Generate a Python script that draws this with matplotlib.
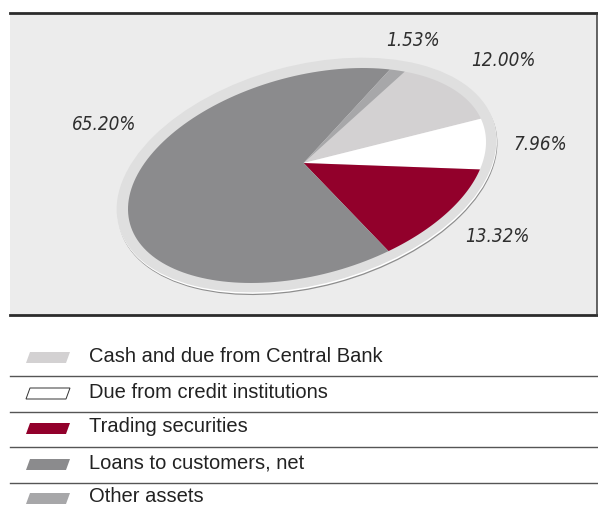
import numpy as np
import matplotlib
matplotlib.use("Agg")
import matplotlib.pyplot as plt
from matplotlib.patches import Rectangle, Ellipse, Polygon
from matplotlib.transforms import Affine2D

# asset structure, %
labels = ["Cash and due from Central Bank", "Due from credit institutions",
          "Trading securities", "Loans to customers, net", "Other assets"]
shares = [12.00, 7.96, 13.32, 65.20, 1.53]
colors = ["#d3d1d2", "#ffffff", "#92002b", "#8b8b8d", "#a7a7a9"]

# where the percentage labels sit (pixels)
label_pos = [(503, 60), (540, 145), (497, 237), (104, 125), (413, 40)]

fig = plt.figure(figsize=(5.98, 5.07), dpi=100)
ax = fig.add_axes([0, 0, 1, 1])

# pie top face: unit circle squashed and tilted into an ellipse
cx, cy = 307, 175.5
A, B, tilt = 183.5, 99.6, 15.2
tr = Affine2D().scale(A, -B).rotate_deg(-tilt).translate(cx, cy) + ax.transData
apex = np.array([0.0, 0.13])

wedges, _ = ax.pie(shares, colors=colors, startangle=48.5, counterclock=False,
                   wedgeprops=dict(transform=tr, linewidth=0))

ax.set_xlim(0, 598)
ax.set_ylim(507, 0)
ax.set_aspect("auto")
ax.axis("off")

# grey panel
ax.add_patch(Rectangle((10, 13), 587, 302, fc="#ececec", ec="none", zorder=0))
ax.plot([10, 597], [13, 13], color="#2b2b2b", lw=2, zorder=1)
ax.plot([10, 597], [315, 315], color="#2b2b2b", lw=2, zorder=1)
ax.plot([597, 597], [13, 315], color="#3a3a3a", lw=1.1, zorder=1)

# rim with a little shadow underneath
ax.add_patch(Ellipse((cx + 0.5, cy + 2.2), 2 * 194.5, 2 * 109.5, angle=-tilt,
                     fc="#8e8e8e", ec="none", zorder=1))
ax.add_patch(Ellipse((cx, cy + 1.0), 2 * 194.5, 2 * 109.5, angle=-tilt,
                     fc="#ffffff", ec="none", zorder=1.1))
ax.add_patch(Ellipse((cx - 0.5, cy - 0.5), 2 * 194.5, 2 * 109.5, angle=-tilt,
                     fc="#dfdfdf", ec="none", zorder=1.2))

# slices meet a bit above the centre of the ellipse
for w in wedges:
    t = np.radians(np.linspace(w.theta1, w.theta2, 120))
    arc = np.column_stack([np.cos(t), np.sin(t)])
    pts = np.vstack([apex, arc])
    ax.add_patch(Polygon(pts, closed=True, fc=w.get_facecolor(), ec="none",
                         transform=tr, zorder=2))
    w.remove()

for s, (x, y) in zip(shares, label_pos):
    ax.text(x, y, f"{s:.2f}%", ha="center", va="center", fontsize=13.5,
            style="italic", fontstretch="condensed", color="#2e2e2e",
            family=["DejaVu Sans"])

# legend
rows_y = [356, 392, 427, 463, 497]
for i, (lab, col, y) in enumerate(zip(labels, colors, rows_y)):
    sw = [(26, y + 7), (30, y - 4), (70, y - 4), (66, y + 7)]
    ec = "#333333" if col == "#ffffff" else "none"
    ax.add_patch(Polygon(sw, closed=True, fc=col, ec=ec, lw=0.7))
    ax.text(89, y, lab, ha="left", va="center", fontsize=14.5,
            color="#222222", family=["Liberation Sans", "DejaVu Sans"])
    if i < len(labels) - 1:
        ax.plot([10, 597], [y + 20, y + 20], color="#555555", lw=1.0)

fig.savefig("out.png", dpi=100)
